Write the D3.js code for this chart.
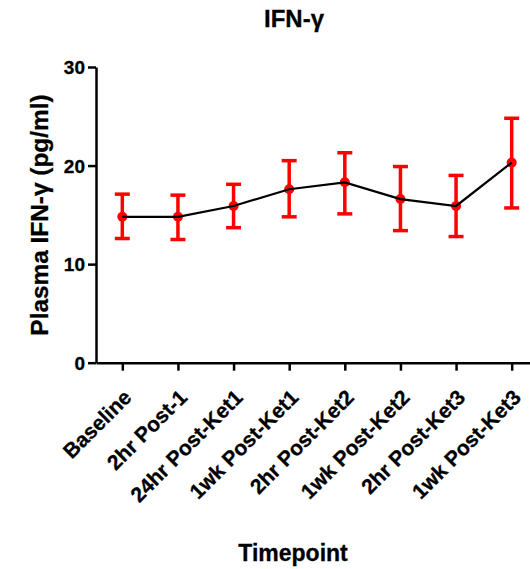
<!DOCTYPE html>
<html>
<head>
<meta charset="utf-8">
<script src="https://cdn.jsdelivr.net/npm/d3@7"></script>
<style>
  html, body { margin: 0; padding: 0; background: #fff; }
  svg { display: block; }
  text { font-family: "Liberation Sans", Arial, sans-serif; font-weight: bold; fill: #000; stroke: #000; stroke-width: 0.3px; }
</style>
</head>
<body>
<svg id="chart" width="530" height="569"></svg>
<script>
// ---- data ----
const categories = ["Baseline", "2hr Post-1", "24hr Post-Ket1", "1wk Post-Ket1",
                    "2hr Post-Ket2", "1wk Post-Ket2", "2hr Post-Ket3", "1wk Post-Ket3"];
const means = [14.8, 14.8, 15.9, 17.6, 18.3, 16.6, 15.9, 20.3];
const upper = [17.1, 17.0, 18.1, 20.5, 21.3, 19.9, 19.0, 24.8];
const lower = [12.6, 12.5, 13.7, 14.8, 15.1, 13.4, 12.8, 15.7];
const yTicks = [0, 10, 20, 30];
const chartTitle = "IFN-γ";
const xTitle = "Timepoint";
const yTitle = "Plasma IFN-γ (pg/ml)";

const rows = categories.map((c, i) => ({ c, m: means[i], hi: upper[i], lo: lower[i] }));

const svg = d3.select("#chart");
const axisX = 96, axisY = 362.7;
const FONT = '"Liberation Sans", Arial, sans-serif';

const x = d3.scalePoint().domain(categories).range([axisX, 538]).padding(0.473);
const y = d3.scaleLinear().domain([0, 30]).range([axisY, 67]);

// title
svg.append("text").attr("x", 294).attr("y", 27).attr("text-anchor", "middle")
  .style("font-size", "24px").text(chartTitle);

// y axis
const gy = svg.append("g").attr("transform", `translate(${axisX},0)`)
  .call(d3.axisLeft(y).tickValues(yTicks).tickSize(8).tickSizeOuter(0).tickPadding(3));
gy.select(".domain").attr("stroke", "#000").attr("stroke-width", 2.5);
gy.selectAll(".tick line").attr("stroke", "#000").attr("stroke-width", 2.5);
gy.selectAll(".tick text")
  .attr("font-size", 19).attr("font-family", FONT).attr("font-weight", "bold")
  .style("font-size", "19px").attr("dy", "0.36em");

// x axis
const gx = svg.append("g").attr("transform", `translate(0,${axisY})`)
  .call(d3.axisBottom(x).tickSize(8).tickSizeOuter(0));
gx.select(".domain").attr("stroke", "#000").attr("stroke-width", 2.5);
gx.selectAll(".tick line").attr("stroke", "#000").attr("stroke-width", 2.5);
gx.selectAll(".tick text")
  .attr("font-size", 21).attr("font-family", FONT).attr("font-weight", "bold")
  .style("font-size", "21px")
  .attr("text-anchor", "end")
  .attr("y", 0).attr("dy", 0)
  .attr("transform", "translate(10,36) rotate(-45)");

// axis titles
svg.append("text").attr("text-anchor", "middle")
  .attr("transform", "translate(48,215) rotate(-90)")
  .style("font-size", "24.4px").text(yTitle);
svg.append("text").attr("x", 293).attr("y", 561).attr("text-anchor", "middle")
  .style("font-size", "23px").text(xTitle);

// error bars
const capW = 7.5;
const eb = svg.append("g").attr("stroke", "#ff0000").attr("stroke-width", 3.5);
eb.selectAll("line.stem").data(rows).join("line").attr("class", "stem")
  .attr("x1", d => x(d.c)).attr("x2", d => x(d.c))
  .attr("y1", d => y(d.hi)).attr("y2", d => y(d.lo));
eb.selectAll("line.capt").data(rows).join("line").attr("class", "capt")
  .attr("x1", d => x(d.c) - capW).attr("x2", d => x(d.c) + capW)
  .attr("y1", d => y(d.hi)).attr("y2", d => y(d.hi));
eb.selectAll("line.capb").data(rows).join("line").attr("class", "capb")
  .attr("x1", d => x(d.c) - capW).attr("x2", d => x(d.c) + capW)
  .attr("y1", d => y(d.lo)).attr("y2", d => y(d.lo));

// markers
svg.append("g").selectAll("circle").data(rows).join("circle")
  .attr("cx", d => x(d.c)).attr("cy", d => y(d.m)).attr("r", 5)
  .attr("fill", "#ff0000");

// mean line
svg.append("path").datum(rows)
  .attr("fill", "none").attr("stroke", "#000").attr("stroke-width", 2.2)
  .attr("d", d3.line().x(d => x(d.c)).y(d => y(d.m)));
</script>
</body>
</html>
